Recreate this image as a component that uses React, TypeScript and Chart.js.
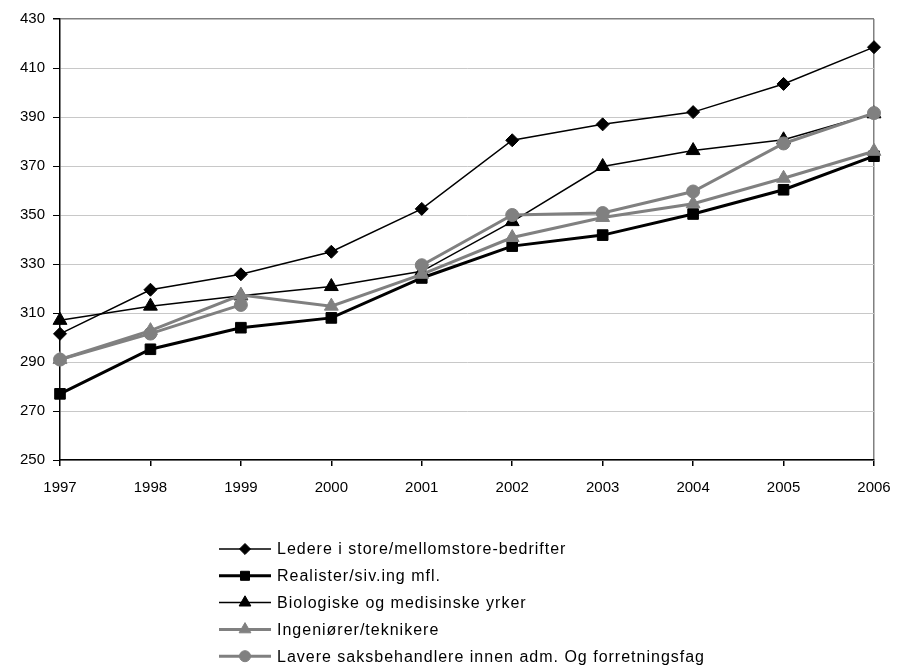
import React, { useEffect, useRef } from "react";
import { Chart, registerables } from "chart.js";
import { drawPoint } from "chart.js/helpers";

Chart.register(...registerables);

const years = ["1997", "1998", "1999", "2000", "2001", "2002", "2003", "2004", "2005", "2006"];
const seriesNames = [
  "Ledere i store/mellomstore-bedrifter",
  "Realister/siv.ing mfl.",
  "Biologiske og medisinske yrker",
  "Ingeniører/teknikere",
  "Lavere saksbehandlere innen adm. Og forretningsfag",
];
const ledere = [301.5, 319.5, 325.8, 335, 352.5, 380.5, 387, 392, 403.5, 418.5];
const realister = [277, 295.2, 304, 308, 324.3, 337.3, 341.8, 350.4, 360.3, 374];
const biologiske = [307, 312.8, 317, 320.8, 327, 347.3, 369.8, 376.3, 380.7, 391.3];
const ingeniorer = [291, 302.8, 317.3, 312.8, 325.8, 340.8, 349, 354.6, 365, 376];
const lavere = [291, 301.6, 313.3, null, 329.5, 350, 350.8, 359.6, 379.2, 391.6];
const yMin = 250;
const yMax = 430;
const yStep = 20;

const BLACK = "#000000";
const GRAY = "#808080";
const FONT = "'Liberation Sans', Arial, sans-serif";

const legendPlugin = {
  id: "verticalLegend",
  afterDraw(chart: any) {
    const ctx = chart.ctx;
    const x0 = 219;
    const y0 = 549;
    const step = 26.8;
    const lineLen = 52;
    ctx.save();
    chart.data.datasets.forEach((ds: any, i: number) => {
      const y = y0 + i * step;
      ctx.strokeStyle = ds.borderColor;
      ctx.lineWidth = ds.borderWidth;
      ctx.beginPath();
      ctx.moveTo(x0, y);
      ctx.lineTo(x0 + lineLen, y);
      ctx.stroke();
      ctx.fillStyle = ds.pointBackgroundColor;
      ctx.strokeStyle = ds.pointBorderColor;
      ctx.lineWidth = 1;
      drawPoint(ctx, { pointStyle: ds.pointStyle, radius: ds.pointRadius * 0.85, rotation: 0, borderWidth: 1 }, x0 + lineLen / 2, y);
      ctx.fillStyle = BLACK;
      ctx.font = `16px ${FONT}`;
      (ctx as any).letterSpacing = "1px";
      ctx.textAlign = "left";
      ctx.textBaseline = "middle";
      ctx.fillText(ds.label, x0 + lineLen + 6, y + 1);
      (ctx as any).letterSpacing = "0px";
    });
    ctx.restore();
  },
};

export default function App() {
  const ref = useRef<HTMLCanvasElement>(null);
  useEffect(() => {
    if (!ref.current) return;
    Chart.defaults.font.family = FONT;
    const mk = (label: string, data: (number | null)[], color: string, width: number, style: string, radius: number, order: number) => ({
      label,
      data,
      borderColor: color,
      backgroundColor: color,
      borderWidth: width,
      pointStyle: style,
      pointRadius: radius,
      pointHoverRadius: radius,
      pointBackgroundColor: color,
      pointBorderColor: color,
      pointBorderWidth: 1,
      tension: 0,
      spanGaps: false,
      order,
    });
    const chart = new Chart(ref.current, {
      type: "line",
      data: {
        labels: years,
        datasets: [
          mk(seriesNames[0], ledere, BLACK, 1.5, "rectRot", 6.5, 5),
          mk(seriesNames[1], realister, BLACK, 3, "rect", 7.5, 4),
          mk(seriesNames[2], biologiske, BLACK, 1.5, "triangle", 8, 3),
          mk(seriesNames[3], ingeniorer, GRAY, 3, "triangle", 8, 2),
          mk(seriesNames[4], lavere, GRAY, 3, "circle", 6.5, 1),
        ],
      },
      options: {
        animation: false,
        responsive: true,
        maintainAspectRatio: false,
        layout: { padding: { top: 19, right: 24, bottom: 168, left: 0 } },
        plugins: { legend: { display: false }, tooltip: { enabled: false } },
        scales: {
          x: {
            type: "category",
            offset: false,
            grid: {
              offset: false,
              color: (c: any) => (c.index === years.length - 1 ? GRAY : "rgba(0,0,0,0)"),
              tickColor: BLACK,
              tickLength: 6,
              lineWidth: 1.5,
            },
            border: { display: true, color: BLACK, width: 1.5 },
            ticks: { color: BLACK, font: { size: 15 }, padding: 13, maxRotation: 0, autoSkip: false },
            afterFit: (s: any) => {
              s.height = 40;
              s.paddingRight = 0;
              s.paddingLeft = 0;
            },
          },
          y: {
            min: yMin,
            max: yMax,
            grid: {
              color: (c: any) => (c.tick && c.tick.value === yMax ? GRAY : "#c8c8c8"),
              tickColor: BLACK,
              tickLength: 7,
              lineWidth: (c: any) => (c.tick && c.tick.value === yMax ? 1.5 : 1),
            },
            border: { display: true, color: BLACK, width: 1.5 },
            ticks: { stepSize: yStep, color: BLACK, font: { size: 15 }, padding: 8 },
            afterFit: (s: any) => {
              s.width = 60;
            },
          },
        },
      },
      plugins: [legendPlugin],
    });
    return () => chart.destroy();
  }, []);
  return (
    <div style={{ position: "fixed", left: 0, top: 0, width: 898, height: 668, background: "#fff" }}>
      <canvas ref={ref} />
    </div>
  );
}
